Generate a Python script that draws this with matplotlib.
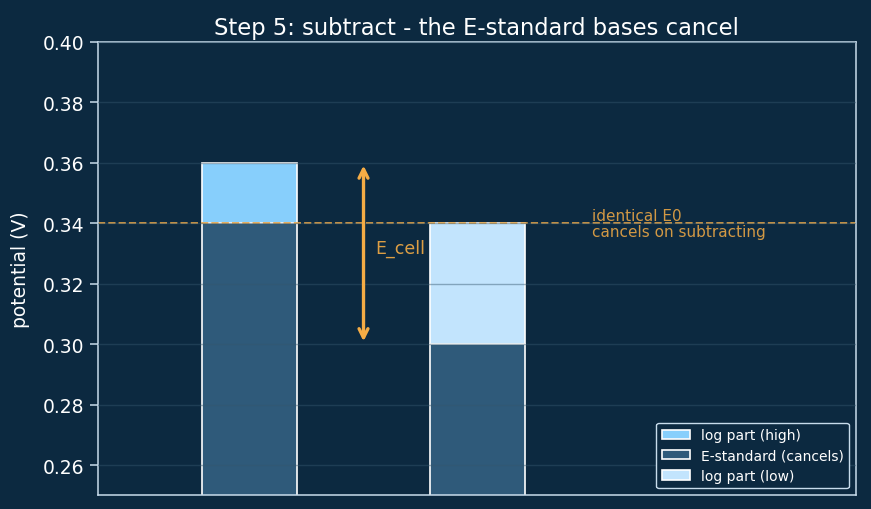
import matplotlib
matplotlib.use('Agg')
import matplotlib.pyplot as plt

# bar data
positions = [0, 1]
e_standard = [0.34, 0.30]
log_high = 0.02      # on top of left bar
log_low = 0.04       # on top of right bar
e_zero = 0.34
arrow_range = [0.30, 0.36]

BG = '#0c2940'
ORANGE = '#f5ac45'


def main():
    fig = plt.figure(figsize=(8.71, 5.10), dpi=100, facecolor=BG)
    ax = fig.add_axes([0.112, 0.027, 0.871, 0.889])
    ax.set_facecolor(BG)

    w = 0.42
    ax.bar(positions[0], log_high, w, bottom=e_standard[0], color='#87cffc',
           edgecolor='white', linewidth=1.2, label='log part (high)')
    ax.bar(positions, e_standard, w, color='#2f5a7a',
           edgecolor='white', linewidth=1.2, label='E-standard (cancels)')
    ax.bar(positions[1], log_low, w, bottom=e_standard[1], color='#c2e4fd',
           edgecolor='white', linewidth=1.2, label='log part (low)')

    ax.axhline(e_zero, color=ORANGE, ls='--', lw=1.4, alpha=0.85)
    ax.annotate('', xy=(0.5, arrow_range[1]), xytext=(0.5, arrow_range[0]),
                arrowprops=dict(arrowstyle='<->', color=ORANGE, lw=2.4,
                                mutation_scale=16))
    ax.text(0.55, 0.332, 'E_cell', color=ORANGE, fontsize=12.5, va='center', alpha=0.9)
    ax.text(1.5, 0.34, 'identical E0\ncancels on subtracting', color=ORANGE,
            fontsize=11, va='center', alpha=0.85, linespacing=1.1)

    ax.set_xlim(-0.666, 2.66)
    ax.set_ylim(0.25, 0.40)
    ax.set_xticks([])
    ax.set_axisbelow(False)
    ax.grid(axis='y', color='#34566d', alpha=0.45, lw=1.0)
    ax.set_ylabel('potential (V)', color='white', fontsize=13.5, labelpad=9)
    ax.set_title('Step 5: subtract - the E-standard bases cancel', color='white', fontsize=16.3)
    ax.tick_params(colors='#c8dcec', labelcolor='white', labelsize=13.5, length=6, width=1.1)
    for s in ax.spines.values():
        s.set_color('#c8dcec')
        s.set_linewidth(1.1)

    ax.legend(loc='lower right', fontsize=10, facecolor=BG, edgecolor='#c8dcec',
              labelcolor='white', framealpha=1, labelspacing=0.45)

    fig.savefig('out.png', dpi=100, facecolor=BG)


if __name__ == "__main__":
    main()
